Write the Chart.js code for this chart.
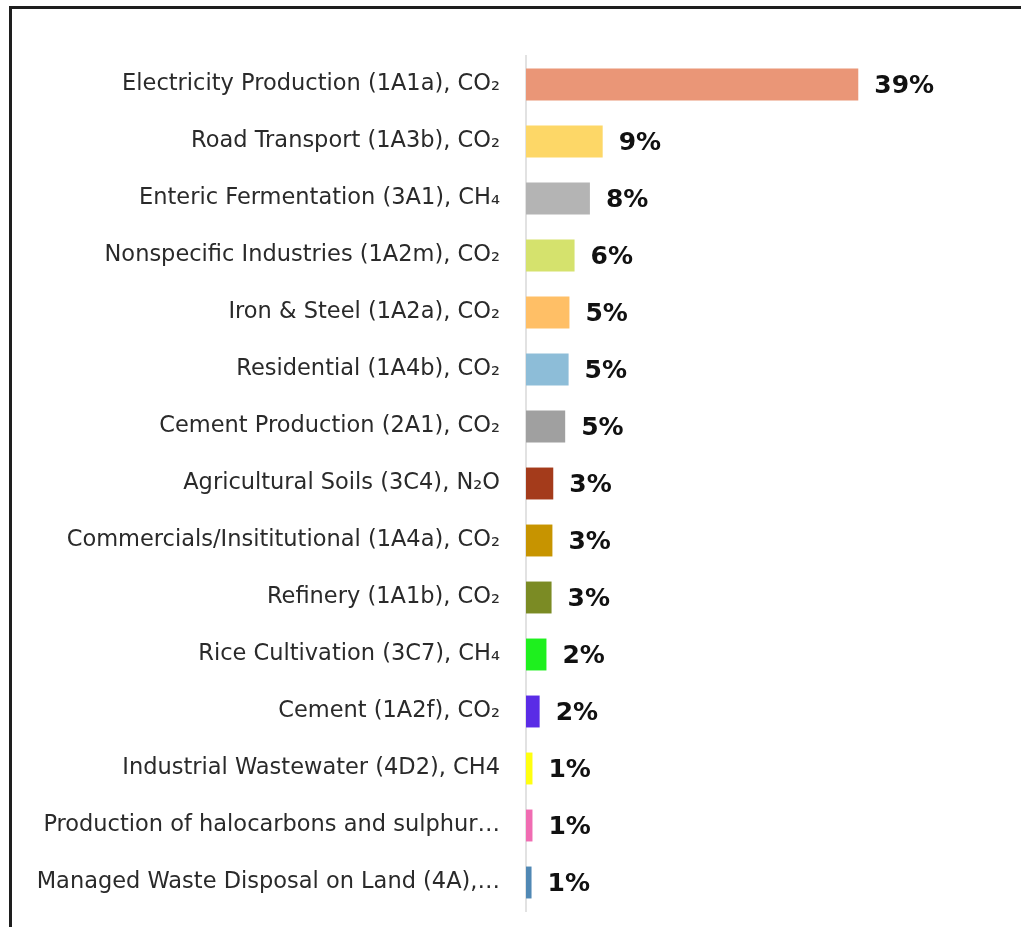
<!DOCTYPE html>
<html>
<head>
<meta charset="utf-8">
<script src="https://cdn.jsdelivr.net/npm/chart.js@4"></script>
<style>
  body { margin: 0; background: #fff; }
  #wrap { position: relative; width: 1021px; height: 927px; overflow: hidden; }
  #frame { position: absolute; left: 9px; top: 6px; width: 1100px; height: 1000px; border: 3px solid #1e1e1e; }
  #chart { position: absolute; left: 0; top: 0; }
</style>
</head>
<body>
<div id="wrap">
  <div id="frame"></div>
  <canvas id="chart" width="1021" height="927"></canvas>
</div>
<script>
const categories = [
  "Electricity Production (1A1a), CO\u2082",
  "Road Transport (1A3b), CO\u2082",
  "Enteric Fermentation (3A1), CH\u2084",
  "Nonspecific Industries (1A2m), CO\u2082",
  "Iron & Steel (1A2a), CO\u2082",
  "Residential (1A4b), CO\u2082",
  "Cement Production (2A1), CO\u2082",
  "Agricultural Soils (3C4), N\u2082O",
  "Commercials/Insititutional (1A4a), CO\u2082",
  "Refinery (1A1b), CO\u2082",
  "Rice Cultivation (3C7), CH\u2084",
  "Cement (1A2f), CO\u2082",
  "Industrial Wastewater (4D2), CH4",
  "Production of halocarbons and sulphur\u2026",
  "Managed Waste Disposal on Land (4A),\u2026"
];

// share of total emissions, %
const shares = [39, 9.0, 7.5, 5.7, 5.1, 5.0, 4.6, 3.2, 3.1, 3.0, 2.4, 1.6, 0.76, 0.76, 0.65];

const barColors = [
  "#ea9677", "#fdd767", "#b4b4b4", "#d5e26d", "#ffbf66",
  "#8dbdd8", "#a0a0a0", "#a43b1b", "#c79400", "#7b8b24",
  "#1ef01e", "#5a2ce6", "#ffff10", "#f06cb2", "#5088b4"
];

// percent labels right of each bar
const valueLabels = {
  id: "valueLabels",
  afterDatasetsDraw(chart) {
    const ctx = chart.ctx;
    const meta = chart.getDatasetMeta(0);
    ctx.save();
    ctx.font = "bold 25px 'DejaVu Sans'";
    ctx.fillStyle = "#111";
    ctx.textBaseline = "middle";
    ctx.textAlign = "left";
    meta.data.forEach((bar, i) => {
      ctx.fillText(Math.round(shares[i]) + "%", bar.x + 16, bar.y + 2);
    });
    ctx.restore();
  }
};

new Chart(document.getElementById("chart"), {
  type: "bar",
  data: {
    labels: categories,
    datasets: [{
      data: shares,
      backgroundColor: barColors,
      borderWidth: 0,
      categoryPercentage: 1,
      barPercentage: 0.56
    }]
  },
  options: {
    indexAxis: "y",
    responsive: false,
    animation: false,
    layout: { padding: { left: 10, top: 56, bottom: 16, right: 69 } },
    plugins: {
      legend: { display: false },
      tooltip: { enabled: false }
    },
    scales: {
      x: {
        display: false,
        min: 0,
        max: 50
      },
      y: {
        afterFit: (scale) => {
          scale.width = 516;
          scale.paddingTop = 0;
          scale.paddingBottom = 0;
        },
        grid: { display: false, drawTicks: false },
        border: { display: true, color: "#e2e2e2", width: 2 },
        ticks: {
          color: "#2a2a2a",
          padding: 26,
          font: { family: "DejaVu Sans", size: 22.5 }
        }
      }
    }
  },
  plugins: [valueLabels]
});
</script>
</body>
</html>
